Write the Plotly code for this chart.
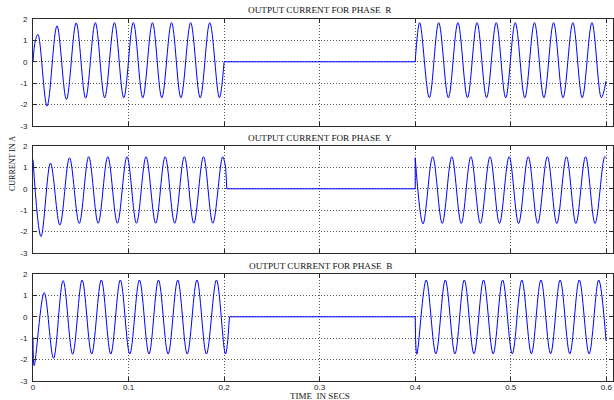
import plotly.graph_objects as go

# ---------------- data ----------------
# Phase R
R_t1 = [0, 0.0025, 0.0052, 0.0147, 0.0251, 0.0350, 0.0452, 0.0551, 0.0652, 0.0750, 0.0852,
        0.0950, 0.1050, 0.1149, 0.1250, 0.1348, 0.1450, 0.1548, 0.1650, 0.1750, 0.1850, 0.1950, 0.2000]
R_i1 = [0, 1.00, 1.28, -2.07, 1.68, -1.76, 1.82, -1.70, 1.83, -1.68, 1.83,
        -1.68, 1.83, -1.68, 1.83, -1.68, 1.83, -1.68, 1.83, -1.68, 1.83, -1.68, 0]
R_flat_t = [0.2000, 0.4000]
R_flat_i = [0, 0]
R_t2 = [0.4000, 0.4047, 0.4148, 0.4246, 0.4347, 0.4447, 0.4547, 0.4647, 0.4747, 0.4848, 0.4947,
        0.5047, 0.5147, 0.5248, 0.5347, 0.5448, 0.5547, 0.5650, 0.5748, 0.5850, 0.5948, 0.5997]
R_i2 = [0, 1.83, -1.68, 1.83, -1.68, 1.83, -1.68, 1.83, -1.68, 1.83, -1.68,
        1.83, -1.68, 1.83, -1.68, 1.83, -1.68, 1.83, -1.68, 1.83, -1.68, -0.90]

# Phase Y
Y_t1 = [0, 0.0084, 0.0183, 0.0281, 0.0382, 0.0484, 0.0583, 0.0682, 0.0783, 0.0883, 0.0984,
        0.1083, 0.1183, 0.1284, 0.1383, 0.1483, 0.1584, 0.1683, 0.1784, 0.1882, 0.1985, 0.2017]
Y_i1 = [1.36, -2.23, 1.20, -1.70, 1.45, -1.62, 1.50, -1.61, 1.50, -1.61, 1.50,
        -1.61, 1.50, -1.61, 1.50, -1.61, 1.50, -1.61, 1.50, -1.61, 1.50, 0.97]
Y_flat_t = [0.2017, 0.2028, 0.4000, 0.4000]
Y_flat_i = [0.97, 0, 0, 1.45]
Y_t2 = [0.4000, 0.4082, 0.4183, 0.4283, 0.4383, 0.4482, 0.4583, 0.4682, 0.4783, 0.4882, 0.4983,
        0.5082, 0.5183, 0.5282, 0.5383, 0.5482, 0.5583, 0.5682, 0.5783, 0.5882, 0.5983, 0.5997]
Y_i2 = [1.45, -1.64, 1.50, -1.62, 1.50, -1.62, 1.50, -1.62, 1.50, -1.62, 1.50,
        -1.62, 1.50, -1.62, 1.50, -1.62, 1.50, -1.62, 1.50, -1.62, 1.50, 1.45]

# Phase B
B_t1 = [0, 0.0012, 0.0117, 0.0215, 0.0315, 0.0415, 0.0514, 0.0614, 0.0715, 0.0814, 0.0914,
        0.1013, 0.1114, 0.1214, 0.1313, 0.1414, 0.1515, 0.1614, 0.1716, 0.1815, 0.1920, 0.2014, 0.2056]
B_i1 = [-0.95, -2.28, 1.13, -1.94, 1.69, -1.75, 1.72, -1.74, 1.72, -1.74, 1.72,
        -1.74, 1.72, -1.74, 1.72, -1.74, 1.72, -1.74, 1.72, -1.74, 1.72, -1.74, 0]
B_flat_t = [0.2056, 0.4000]
B_flat_i = [0, 0]
B_t2 = [0.4000, 0.4017, 0.4115, 0.4216, 0.4315, 0.4416, 0.4514, 0.4615, 0.4715, 0.4816, 0.4915,
        0.5016, 0.5116, 0.5216, 0.5316, 0.5417, 0.5517, 0.5618, 0.5717, 0.5820, 0.5920, 0.5997]
B_i2 = [0, -1.75, 1.72, -1.73, 1.72, -1.73, 1.72, -1.73, 1.72, -1.73, 1.72,
        -1.73, 1.72, -1.73, 1.72, -1.73, 1.72, -1.73, 1.72, -1.73, 1.72, -1.12]

titles = ["OUTPUT CURRENT FOR PHASE&nbsp; R", "OUTPUT CURRENT FOR PHASE&nbsp; Y",
          "OUTPUT CURRENT FOR PHASE&nbsp; B"]
x_ticks = [0, 0.1, 0.2, 0.3, 0.4, 0.5, 0.6]
x_tick_labels = ["0", "0.1", "0.2", "0.3", "0.4", "0.5", "0.6"]
y_ticks = [-3, -2, -1, 0, 1, 2]
y_tick_labels = ["-3", "-2", "-1", "0", "1", "2"]
x_label = "TIME&nbsp; IN SECS"
y_label = "CURRENT IN A"

# ---------------- figure ----------------
W, H = 614, 400
LINE = "#0000ff"
fig = go.Figure()

phases = [
    (R_t1, R_i1, R_flat_t, R_flat_i, R_t2, R_i2),
    (Y_t1, Y_i1, Y_flat_t, Y_flat_i, Y_t2, Y_i2),
    (B_t1, B_i1, B_flat_t, B_flat_i, B_t2, B_i2),
]


def px(x):
    return x / W


def py(y):
    return 1 - y / H


# pixel boxes (top, bottom) of each axes
x_left, x_right = 33, 613
boxes = [(19, 126), (146, 253), (274, 381)]

for k, (t1, i1, tf, ifl, t2, i2) in enumerate(phases):
    xa = "x" if k == 0 else f"x{k+1}"
    ya = "y" if k == 0 else f"y{k+1}"
    for tt, ii, shape in [(t1, i1, "spline"), (tf, ifl, "linear"), (t2, i2, "spline")]:
        fig.add_trace(go.Scatter(x=tt, y=ii, mode="lines", xaxis=xa, yaxis=ya,
                                 line=dict(color=LINE, width=1, shape=shape, smoothing=1),
                                 showlegend=False, hoverinfo="skip", cliponaxis=False))

axis_common = dict(
    showline=True, linecolor="#2a2a2a", linewidth=1, mirror="ticks",
    ticks="inside", ticklen=4, tickcolor="#2a2a2a", tickwidth=1,
    showgrid=True, gridcolor="#555555", gridwidth=1, griddash="1px,2px",
    zeroline=False, automargin=False,
    tickfont=dict(family="Liberation Sans", size=8, color="#222222"),
)

for k, (top, bot) in enumerate(boxes):
    sfx = "" if k == 0 else str(k + 1)
    xd = [px(x_left), px(x_right)]
    yd = [py(bot), py(top)]
    fig.layout[f"xaxis{sfx}"] = dict(
        axis_common, domain=xd, range=[0, 0.607], tickmode="array",
        tickvals=x_ticks, ticktext=x_tick_labels, showticklabels=(k == 2),
        anchor=f"y{sfx}", ticklabelstandoff=-2,
    )
    fig.layout[f"yaxis{sfx}"] = dict(
        axis_common, domain=yd, range=[-3, 2], tickmode="array",
        tickvals=y_ticks, ticktext=y_tick_labels, anchor=f"x{sfx}", ticklabelstandoff=3,
    )
    fig.add_annotation(text=titles[k], xref="paper", yref="paper",
                       x=px((x_left + 607) / 2), y=py(top - 8.5),
                       showarrow=False, xanchor="center", yanchor="middle",
                       font=dict(family="Liberation Serif", size=9.2, color="#111111"))

fig.add_annotation(text=x_label, xref="paper", yref="paper",
                   x=px(320), y=py(396), showarrow=False,
                   xanchor="center", yanchor="middle",
                   font=dict(family="Liberation Serif", size=9, color="#111111"))
fig.add_annotation(text=y_label, xref="paper", yref="paper",
                   x=px(13), y=py(164), showarrow=False, textangle=-90,
                   xanchor="center", yanchor="middle",
                   font=dict(family="Liberation Serif", size=8, color="#111111"))

fig.update_layout(width=W, height=H, margin=dict(l=0, r=0, t=0, b=0),
                  paper_bgcolor="white", plot_bgcolor="white")

# remove the page's default 8px body margin so the figure fills the window
fig.write_html("out.html", config={"displayModeBar": False},
               post_script="document.body.style.margin='0';")
